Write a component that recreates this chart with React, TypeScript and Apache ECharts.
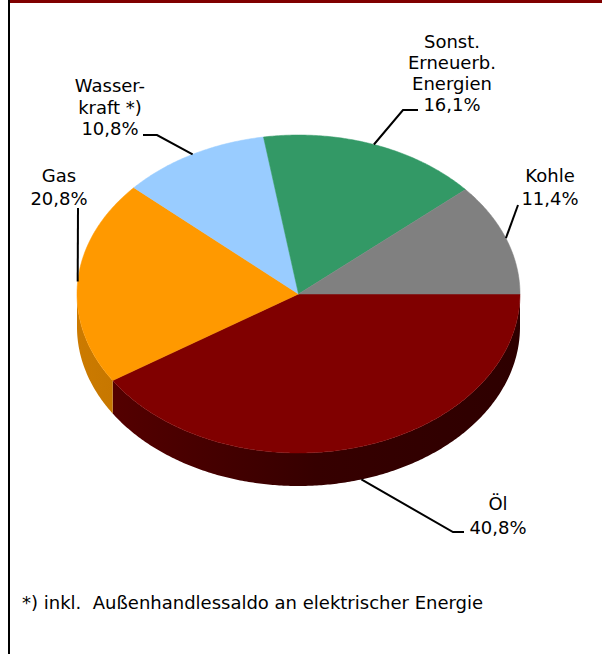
import React, { useEffect, useRef } from "react";
import * as echarts from "echarts";

// ---- data ----
const categories = ["Öl", "Gas", "Wasser-\nkraft *)", "Sonst.\nErneuerb.\nEnergien", "Kohle"];
const values = [40.8, 20.8, 10.8, 16.1, 11.4];
const colors = ["#800000", "#FF9900", "#99CCFF", "#339966", "#808080"];
const footnote = "*) inkl.  Außenhandlessaldo an elektrischer Energie";

// ---- layout ----
const CX = 298.5;
const CY = 294;
const RX = 221.5;
const RY = 159;
const DEPTH = 33;
const FONT = '"DejaVu Sans", Verdana, sans-serif';
const FS = 18;
const labelPos = [
  [498, 515, 24],
  [59, 186.5, 23],
  [110, 107, 21.5],
  [452, 72.5, 21],
  [550, 186.5, 23],
];
const leaderPath = [
  [[453, 532], [464, 532]],
  [[78, 208]],
  [[157, 135], [143, 135]],
  [[403, 110], [418, 110]],
  [[518, 205]],
];

const fmt = (v: number) => v.toFixed(1).replace(".", ",") + "%";

function shade(hex: string, f: number) {
  const n = parseInt(hex.slice(1), 16);
  const r = Math.round(((n >> 16) & 255) * f);
  const g = Math.round(((n >> 8) & 255) * f);
  const b = Math.round((n & 255) * f);
  return `rgb(${r},${g},${b})`;
}

function sliceAngles(): number[][] {
  const total = values.reduce((a, b) => a + b, 0);
  let acc = 0;
  return values.map((v) => {
    const a0 = (acc / total) * Math.PI * 2;
    acc += v;
    const a1 = (acc / total) * Math.PI * 2;
    return [a0, a1];
  });
}

function arcPts(a0: number, a1: number, dy: number) {
  const pts: number[][] = [];
  const n = Math.max(6, Math.ceil((a1 - a0) / 0.01));
  for (let k = 0; k <= n; k++) {
    const t = a0 + ((a1 - a0) * k) / n;
    pts.push([CX + RX * Math.cos(t), CY + RY * Math.sin(t) + dy]);
  }
  return pts;
}

export default function App() {
  const ref = useRef<HTMLDivElement>(null);
  useEffect(() => {
    if (!ref.current) return;
    const chart = echarts.init(ref.current, null, { renderer: "svg" });
    const angles = sliceAngles();

    const sideItem = (params: any) => {
      const i = params.dataIndex;
      const [t0, t1] = angles[i];
      const a = Math.max(t0, 0);
      const b = Math.min(t1, Math.PI);
      if (b <= a) return { type: "group", children: [] };
      const top = arcPts(a, b, 0);
      const bot = arcPts(a, b, DEPTH).reverse();
      const c = colors[i];
      const fill = new echarts.graphic.LinearGradient(0, 0, 1, 0, [
        { offset: 0, color: shade(c, i === 0 ? 0.66 : 0.8) },
        { offset: 0.5, color: shade(c, i === 0 ? 0.42 : 0.79) },
        { offset: 1, color: shade(c, i === 0 ? 0.36 : 0.78) },
      ]);
      return {
        type: "polygon",
        shape: { points: top.concat(bot) },
        style: { fill, stroke: null },
      };
    };

    const topItem = (params: any, api: any) => {
      const i = params.dataIndex;
      const [t0, t1] = angles[i];
      const pts = [[CX, CY]].concat(arcPts(t0, t1, 0));
      const mid = (t0 + t1) / 2;
      const sy = Math.sin(mid);
      const start = [CX + RX * Math.cos(mid), CY + RY * sy + (sy > 0 ? DEPTH : 0)];
      const [lx, ly, lh] = labelPos[i];
      return {
        type: "group",
        children: [
          {
            type: "polygon",
            shape: { points: pts },
            style: { fill: colors[i], stroke: colors[i], lineWidth: 0.5 },
          },
          {
            type: "polyline",
            shape: { points: [start].concat(leaderPath[i]) },
            style: { stroke: "#000", lineWidth: 2, fill: null },
          },
          {
            type: "text",
            style: {
              text: api.value(1) + "\n" + fmt(api.value(0)),
              x: lx,
              y: ly,
              fill: "#000",
              fontSize: FS,
              fontFamily: FONT,
              align: "center",
              verticalAlign: "middle",
              lineHeight: lh,
            },
          },
        ],
      };
    };

    chart.setOption({
      animation: false,
      backgroundColor: "#fff",
      series: [
        {
          type: "custom",
          coordinateSystem: "none",
          z: 1,
          silent: true,
          data: values.map((v, i) => [v, categories[i]]),
          renderItem: sideItem,
        },
        {
          type: "custom",
          coordinateSystem: "none",
          z: 2,
          silent: true,
          data: values.map((v, i) => [v, categories[i]]),
          dimensions: ["value", "name"],
          renderItem: topItem,
        },
      ],
      graphic: [
        { type: "rect", shape: { x: 8, y: 0, width: 594, height: 3 }, style: { fill: "#800000" }, z: 10 },
        { type: "rect", shape: { x: 8, y: 0, width: 2, height: 654 }, style: { fill: "#000" }, z: 11 },
        {
          type: "text",
          x: 22,
          y: 602,
          style: {
            text: footnote,
            fontSize: FS,
            fontFamily: FONT,
            fill: "#000",
            align: "left",
            verticalAlign: "middle",
          },
        },
      ],
    });
    return () => chart.dispose();
  }, []);
  return (
    <div
      ref={ref}
      style={{ position: "absolute", left: 0, top: 0, width: 602, height: 654 }}
    />
  );
}
